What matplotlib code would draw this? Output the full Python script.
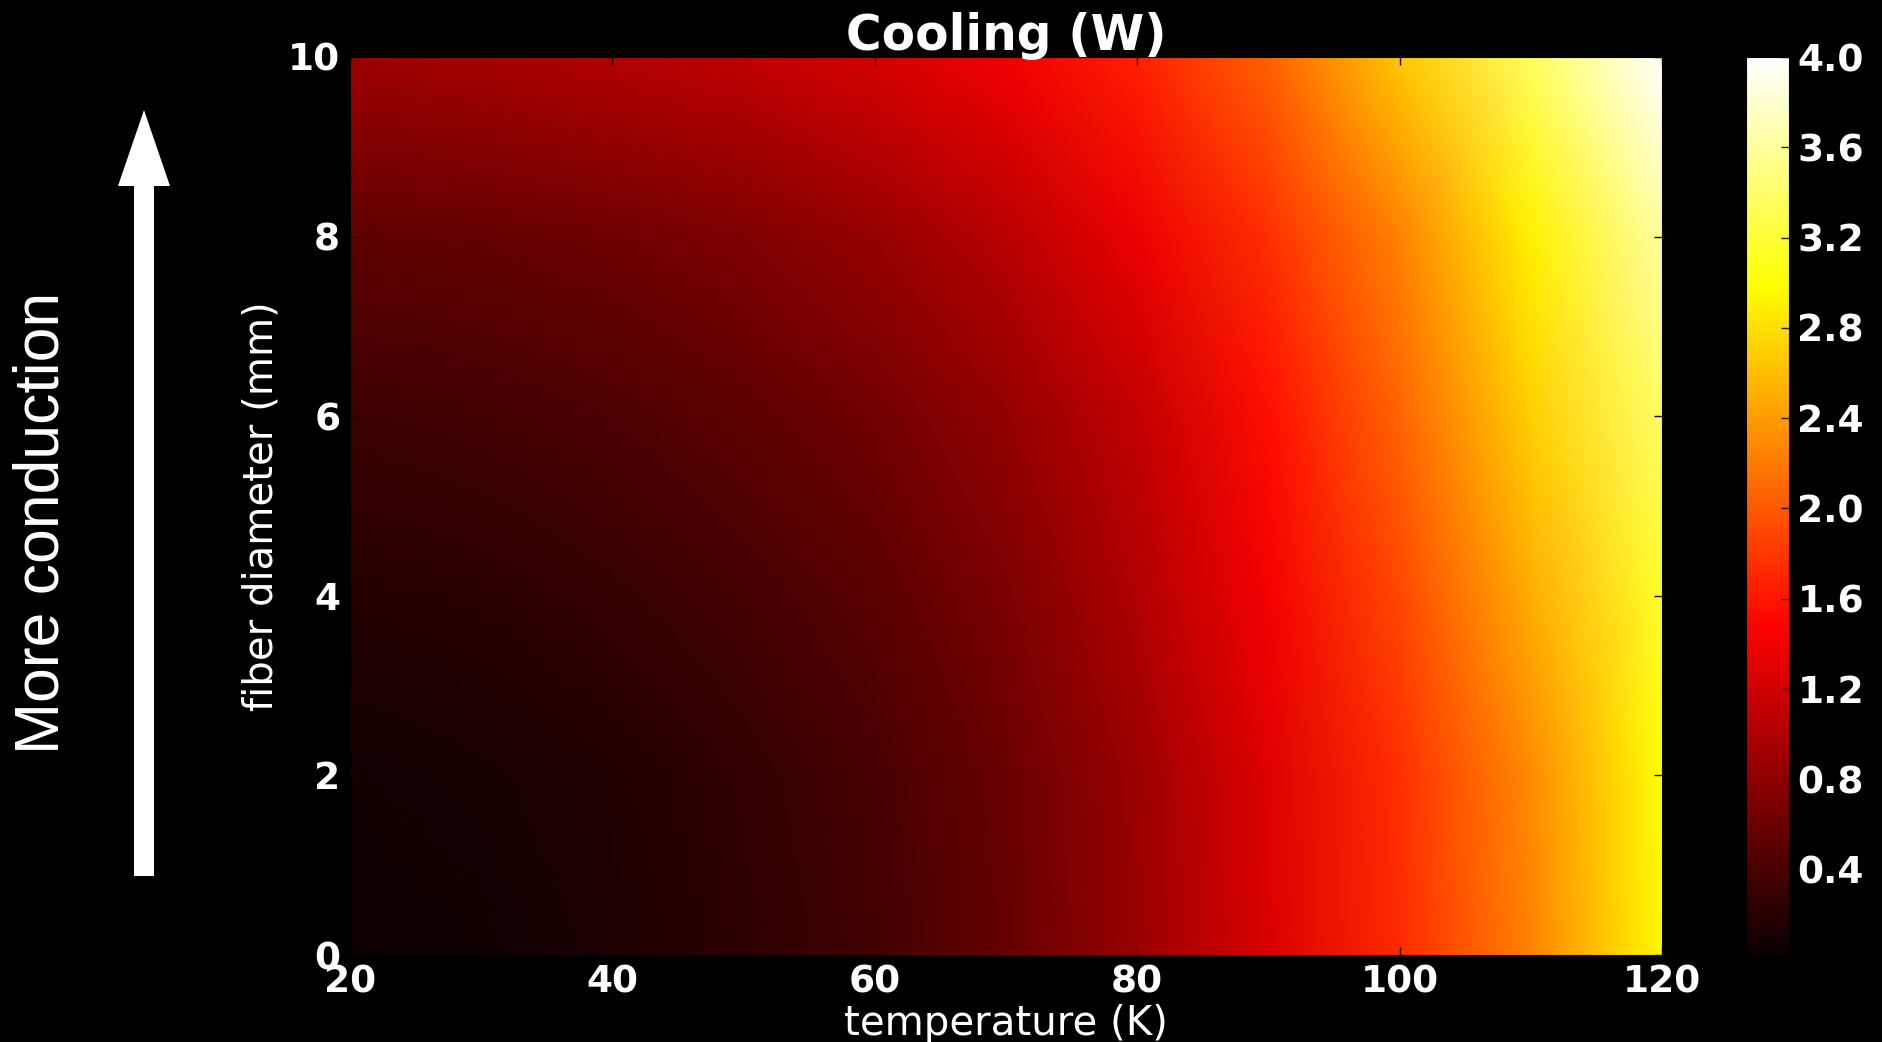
import numpy as np
import matplotlib
matplotlib.use("Agg")
import matplotlib.pyplot as plt
from matplotlib.patches import FancyArrow

# Grid of operating points
temperature_K = [20, 30, 40, 50, 60, 70, 80, 90, 100, 110, 120]
fiber_diameter_mm = [0, 2, 4, 6, 8, 10]

# Cooling power (W), one row per fiber diameter
cooling_d0 = [0.02, 0.06, 0.13, 0.23, 0.36, 0.56, 0.86, 1.26, 1.72, 2.25, 2.95]
cooling_d2 = [0.07, 0.10, 0.16, 0.26, 0.39, 0.59, 0.89, 1.29, 1.75, 2.30, 3.00]
cooling_d4 = [0.18, 0.22, 0.28, 0.37, 0.50, 0.70, 1.00, 1.41, 1.90, 2.50, 3.15]
cooling_d6 = [0.32, 0.36, 0.42, 0.51, 0.64, 0.83, 1.12, 1.55, 2.07, 2.70, 3.38]
cooling_d8 = [0.52, 0.56, 0.62, 0.71, 0.85, 1.05, 1.36, 1.76, 2.25, 2.90, 3.60]
cooling_d10 = [0.90, 0.95, 1.02, 1.10, 1.22, 1.40, 1.66, 2.05, 2.65, 3.35, 4.00]

x_ticks = [20, 40, 60, 80, 100, 120]
y_ticks = [0, 2, 4, 6, 8, 10]
cbar_ticks = [0.4, 0.8, 1.2, 1.6, 2.0, 2.4, 2.8, 3.2, 3.6, 4.0]

W, H, DPI = 1882, 1042, 100
fig = plt.figure(figsize=(W / DPI, H / DPI), dpi=DPI, facecolor="black")

# Overlay in pixel units for the annotation arrow and side text
over = fig.add_axes([0, 0, 1, 1], zorder=0)
over.set_xlim(0, W)
over.set_ylim(H, 0)
over.axis("off")
over.add_patch(FancyArrow(144, 876, 0, -766, width=20, head_width=52,
                          head_length=76, length_includes_head=True,
                          color="white", linewidth=0))
over.text(42, 523, "More conduction", rotation=90, ha="center", va="center",
          color="white", fontsize=45, family="Liberation Sans")

ax = fig.add_axes([350 / W, 1 - 955 / H, (1662 - 350) / W, (955 - 57) / H], zorder=2)
ax.set_facecolor("black")

Z = np.array([cooling_d0, cooling_d2, cooling_d4, cooling_d6, cooling_d8, cooling_d10])
T, D = np.meshgrid(temperature_K, fiber_diameter_mm)
mesh = ax.pcolormesh(T, D, Z, cmap="hot", shading="gouraud")

ax.set_xlim(20, 120)
ax.set_ylim(0, 10)
ax.set_xticks(x_ticks)
ax.set_yticks(y_ticks)
ax.tick_params(direction="in", top=True, right=True, length=6, width=1,
               color="#220000", labelcolor="white", labelsize=27, pad=7)
for lab in ax.get_xticklabels() + ax.get_yticklabels():
    lab.set_fontweight("bold")
for sp in ax.spines.values():
    sp.set_color("black")

ax.set_xlabel("temperature (K)", color="white", fontsize=29, labelpad=2)
ax.set_ylabel("fiber diameter (mm)", color="white", fontsize=29, labelpad=5)
ax.set_title("Cooling (W)", color="white", fontsize=35, fontweight="bold", pad=5)

cax = fig.add_axes([1746 / W, 1 - 955 / H, (1789 - 1746) / W, (955 - 57) / H], zorder=2)
cb = fig.colorbar(mesh, cax=cax, ticks=cbar_ticks)
cb.ax.set_yticklabels([f"{v:.1f}" for v in cbar_ticks])
cb.ax.tick_params(direction="in", length=6, width=1, color="#222200",
                  labelcolor="white", labelsize=27, pad=6)
for lab in cb.ax.get_yticklabels():
    lab.set_fontweight("bold")
cb.outline.set_edgecolor("black")

fig.savefig("out.png", dpi=DPI, facecolor="black")
